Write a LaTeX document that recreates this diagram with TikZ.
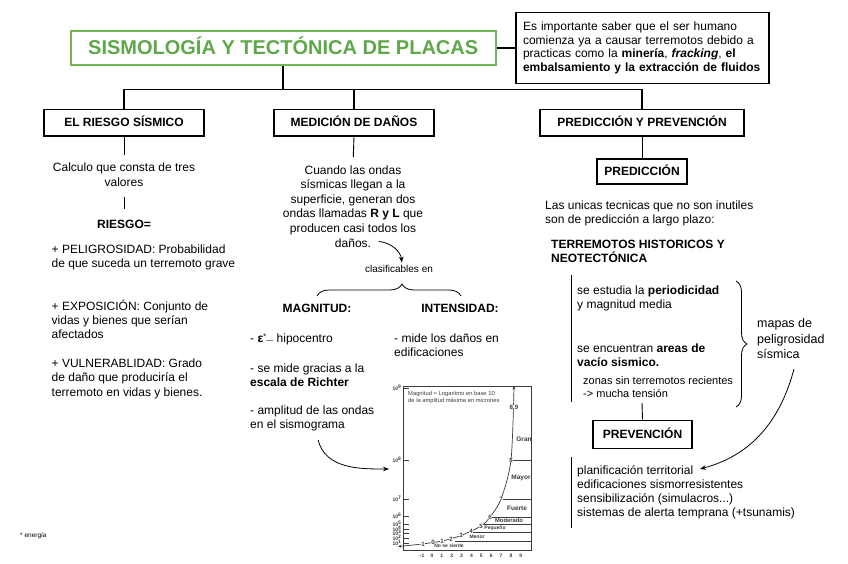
\documentclass[tikz,border=0pt]{standalone}
\usepackage{fontspec}
\setmainfont{Liberation Sans}
\usetikzlibrary{arrows.meta,decorations.pathreplacing}
\definecolor{tgreen}{HTML}{5FA84A}
\definecolor{tboxgreen}{HTML}{72B556}
\definecolor{chartgray}{HTML}{3C3C3C}
\begin{document}
\begin{tikzpicture}[x=1pt,y=-1pt,
  txt/.style={inner sep=0pt,font=\fontsize{12}{14.5}\selectfont},
  boldtxt/.style={inner sep=0pt,font=\fontsize{12}{14.5}\selectfont\bfseries},
  lvlbox/.style={draw=black,line width=1.4pt,inner sep=0pt,minimum height=26.7pt,text height=8.6pt,text depth=0pt,font=\fontsize{12}{14}\selectfont\bfseries},
  conn/.style={line width=1.5pt},
  stem/.style={line width=0.9pt},
  arr/.style={line width=0.8pt,-{Stealth[length=6pt,width=4.5pt]}},
  crv/.style={line width=0.8pt},
  ctxt/.style={inner sep=0.3pt,font=\fontsize{6.2}{6.5}\selectfont\bfseries,text=chartgray},
  csmall/.style={inner sep=0.3pt,font=\fontsize{5}{5.5}\selectfont\bfseries,text=chartgray},
  cline/.style={line width=0.6pt,draw=chartgray}
]
\fill[white] (0,0) rectangle (848,564);
\useasboundingbox (0,0) rectangle (848,564);

% ---------- top ----------
\node[draw=tboxgreen,line width=2pt,minimum width=425pt,minimum height=34pt,inner sep=0pt,
  text height=14.3pt,text depth=1pt,text=tgreen,font=\fontsize{20}{24}\selectfont\bfseries]
  (title) at (283.2,48) {SISMOLOGÍA Y TECTÓNICA DE PLACAS};
\node[draw=black,line width=1.5pt,minimum width=253pt,minimum height=71pt,inner xsep=7pt,
  text width=239pt,align=left,font=\fontsize{12}{13.5}\selectfont]
  (note) at (642.5,47.8) {Es importante saber que el ser humano\\comienza ya a causar terremotos debido a\\practicas como la \textbf{minería}, \textbf{\textit{fracking}}, \textbf{el}\\\textbf{embalsamiento y la extracción de fluidos}};
\draw[conn] (title.east) -- (title.east -| note.west);

\node[lvlbox,minimum width=160pt] (riesgo) at (124,122.7) {EL RIESGO SÍSMICO};
\node[lvlbox,minimum width=160pt] (medicion) at (354,122.7) {MEDICIÓN DE DAÑOS};
\node[lvlbox,minimum width=204pt] (pred) at (642,122.7) {PREDICCIÓN Y PREVENCIÓN};

\draw[conn] (title.south) -- ++(0,23.3) coordinate (j);
\draw[conn] (riesgo.north) |- (j) -| (pred.north);
\draw[conn] (medicion.north) -- (medicion.north |- j);

% ---------- left column ----------
\node[txt,align=center,anchor=base] (calc) at (124,186.5) {Calculo que consta de tres\\valores};
\draw[stem,shorten >=8pt] (riesgo.south) -- (calc.north);
\node[boldtxt,anchor=base] (riesgoeq) at (124,228) {RIESGO=};
\draw[stem,shorten <=10pt,shorten >=10pt] (calc.south) -- (riesgoeq.north);
\node[txt,anchor=base west,align=left] (pelig) at (51.5,267.5) {+ PELIGROSIDAD: Probabilidad\\de que suceda un terremoto grave};
\node[txt,anchor=base west,align=left,font=\fontsize{12}{14.3}\selectfont] (expo) at (51.5,338.6) {+ EXPOSICIÓN: Conjunto de\\vidas y bienes que serían\\afectados};
\node[txt,anchor=base west,align=left,font=\fontsize{12}{14.5}\selectfont] (vuln) at (51.5,396) {+ VULNERABLIDAD: Grado\\de daño que produciría el\\terremoto en vidas y bienes.};

% ---------- middle column ----------
\node[txt,align=center,anchor=base,font=\fontsize{12}{14.6}\selectfont] (ondas) at (353,247)
  {Cuando las ondas\\sísmicas llegan a la\\superficie, generan dos\\ondas llamadas \textbf{R y L} que\\producen casi todos los\\daños.};
\draw[stem,shorten >=8pt] (medicion.south) -- (ondas.north);
\node[inner sep=0pt,font=\fontsize{10}{12}\selectfont,anchor=base] (clas) at (399,272.5) {clasificables en};
\coordinate (dEnd) at (379,241.5);
\draw[arr,shorten >=2.5pt] (dEnd) to[out=-5,in=95] ([xshift=3pt]clas.north);
\draw[crv,decorate,decoration={brace,amplitude=12pt,aspect=0.59}] (317,296) -- (461,296);
\node[boldtxt,anchor=base] (mag) at (317,312.5) {MAGNITUD:};
\node[boldtxt,anchor=base] (inten) at (460,312.5) {INTENSIDAD:};
\node[txt,anchor=base west] (m1) at (250,342) {- \textbf{ε}\raisebox{2.5pt}{\fontsize{8}{8}\selectfont *}{\fontsize{7}{7}\selectfont ---} hipocentro};
\node[txt,anchor=base west,align=left] (m2) at (250,386.5) {- se mide gracias a la\\\textbf{escala de Richter}};
\node[txt,anchor=base west,align=left,font=\fontsize{12}{14.3}\selectfont] (m3) at (250,428.3) {- amplitud de las ondas\\en el sismograma};
\node[txt,anchor=base west,align=left,font=\fontsize{12}{14.3}\selectfont] (i1) at (394,356.3) {- mide los daños en\\edificaciones};
\coordinate (sisStart) at (318,440);
\coordinate (chartIn) at (389,469);
\draw[arr] (sisStart) to[out=-75,in=180] (chartIn);

% ---------- chart ----------
\node[draw=chartgray,line width=0.6pt,minimum width=128pt,minimum height=164pt,inner sep=0pt] (chart) at (467,468) {};
\foreach \yy/\ee in {388/9,460/8,499/7,516/6,524/5,529/4,533/3,538/2,543/1} {
  \draw[cline] (403,\yy) -- (409,\yy);
  \node[csmall,anchor=east] (ylab\ee) at (402,\yy) {10\textsuperscript{\ee}};
}
\node[anchor=north west,inner sep=0pt,align=left,font=\fontsize{5.8}{6.8}\selectfont,text=chartgray] (cap) at (408,391.5) {Magnitud = Logaritmo en base 10\\de la amplitud máxima en micrones};
\draw[cline] (511,460) -- (531,460);
\draw[cline] (501,499) -- (531,499);
\draw[cline] (490,517) -- (531,517);
\draw[cline] (483,524) -- (531,524);
\draw[cline] (472,532) -- (531,532);
\draw[cline] (455,541) -- (531,541);
\draw[cline,line width=0.7pt,{Stealth[length=3.5pt,width=3pt]}-{Stealth[length=3.5pt,width=3pt]}]
  plot[smooth,tension=0.5] coordinates {(398,546.5) (422,544) (442,541) (461,535.5) (481,526) (490,517) (501,499) (511,460) (514,386)};
\foreach \m/\xx/\yy in {-1/422/544,0/433/542.5,1/442/541,2/451/539,3/461/535.5,4/471/531,5/481/526,6/490/517,7/501/499,8/511/460} {
  \node[ctxt,fill=white] (cv\m) at (\xx,\yy) {\m};
}
\node[ctxt,fill=white] (cv89) at (514,407) {8.9};
\node[ctxt,font=\fontsize{6.5}{6.5}\selectfont\bfseries] (gran) at (524,439) {Gran};
\node[ctxt,font=\fontsize{6.5}{6.5}\selectfont\bfseries] (mayor) at (521,478) {Mayor};
\node[ctxt,font=\fontsize{6.5}{6.5}\selectfont\bfseries] (fuerte) at (517,508) {Fuerte};
\node[ctxt,font=\fontsize{5.8}{6}\selectfont\bfseries] (moderado) at (509,520.8) {Moderado};
\node[csmall] (pequeno) at (495,528.5) {Pequeño};
\node[csmall] (menor) at (477,536.7) {Menor};
\node[csmall] (nosiente) at (449,546.2) {No se siente};
\foreach \i in {-1,...,9} {
  \node[csmall] (xl\i) at ({432+9.87*\i},556) {\i};
}

% ---------- right column ----------
\node[lvlbox,minimum width=90pt,minimum height=25pt] (predic) at (642,171.5) {PREDICCIÓN};
\draw[stem] (pred.south) -- (predic.north);
\node[txt,anchor=base west,align=left,font=\fontsize{12}{14.3}\selectfont] (unicas) at (545,223.8) {Las unicas tecnicas que no son inutiles\\son de predicción a largo plazo:};
\node[boldtxt,anchor=base west,align=left] (historicos) at (551,262.5) {TERREMOTOS HISTORICOS Y\\NEOTECTÓNICA};
\draw[stem] (571,275) -- (571,402);
\node[txt,anchor=base west,align=left,font=\fontsize{12}{14.3}\selectfont] (period) at (577,308.8) {se estudia la \textbf{periodicidad}\\y magnitud media};
\node[txt,anchor=base west,align=left,font=\fontsize{12}{14.3}\selectfont] (vacio) at (577,366.3) {se encuentran \textbf{areas de}\\\textbf{vacío sismico.}};
\node[txt,anchor=base west,align=left,font=\fontsize{11}{12.5}\selectfont] (zonas) at (583,397) {zonas sin terremotos recientes\\-> mucha tensión};
\draw[crv,decorate,decoration={brace,amplitude=11pt}] (736,281) -- (736,407);
\node[anchor=base west,align=left,inner sep=0pt,font=\fontsize{12.5}{15.5}\selectfont] (mapas) at (757,358.5) {mapas de\\peligrosidad\\sísmica};
\coordinate (vtop) at (642,403);
\node[lvlbox,minimum width=99pt,minimum height=28pt] (preven) at (642.5,434.2) {PREVENCIÓN};
\draw[stem] (vtop) -- (preven.north);
\draw[stem] (571,457) -- (571,528);
\node[txt,anchor=base west,align=left,font=\fontsize{12}{14}\selectfont] (medidas) at (577,516) {planificación territorial\\edificaciones sismorresistentes\\sensibilización (simulacros...)\\sistemas de alerta temprana (+tsunamis)};
\coordinate (mapStart) at (794,369);
\coordinate (planEnd) at (700,469);
\draw[arr] (mapStart) to[out=-105,in=15] (planEnd);

% ---------- footnote ----------
\node[anchor=base west,inner sep=0pt,font=\fontsize{6.5}{7}\selectfont] (foot) at (20,537.5) {* energía};
\end{tikzpicture}
\end{document}
